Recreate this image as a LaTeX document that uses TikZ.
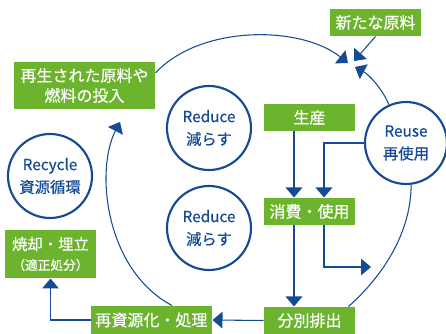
\documentclass[tikz,border=0pt]{standalone}
\usepackage{fontspec}
\setmainfont{Noto Sans CJK JP}[AutoFakeBold=0.5]
\usetikzlibrary{arrows.meta}

\definecolor{leaf}{RGB}{108,180,45}
\definecolor{navy}{RGB}{20,75,148}

\tikzset{every picture/.style={line width=0.75pt}}
\tikzset{
  gbox/.style={fill=leaf, text=white, inner sep=0pt, align=center, font=\fontsize{12}{15}\selectfont\bfseries},
  ring/.style={circle, draw=navy, line width=1.6pt, fill=white, minimum size=63pt, inner sep=0pt, align=center, text=navy, font=\fontsize{11.5}{17}\selectfont\bfseries},
  flow/.style={draw=navy, line width=0.8pt, -{Triangle[length=7.5pt,width=12.5pt]}},
}

\begin{document}
\begin{tikzpicture}[x=0.75pt,y=0.75pt,yscale=-1,xscale=1]
\useasboundingbox (0,0) rectangle (446,334);

% Text Node
\node [gbox, minimum width=68.25pt, minimum height=20.25pt] (shin) at (375.5,22.5) {新たな原料};
% Text Node
\node [gbox, minimum width=105.75pt, minimum height=35.25pt] (saisei) at (84.5,85.5) {再生された原料や\\燃料の投入};
% Text Node
\node [gbox, minimum width=68.25pt, minimum height=20.25pt] (seisan) at (309.5,117.5) {生産};
% Text Node
\node [gbox, minimum width=68.25pt, minimum height=20.25pt] (shohi) at (309.5,211.5) {消費・使用};
% Text Node
\node [gbox, minimum width=68.25pt, minimum height=20.25pt] (bunbetsu) at (309.5,320.5) {分別排出};
% Text Node
\node [gbox, minimum width=90.75pt, minimum height=21pt] (saishigen) at (151.5,320) {再資源化・処理};
% Text Node
\node [gbox, minimum width=68.25pt, minimum height=36pt, font=\fontsize{11.5}{15}\selectfont\bfseries] (shoukyaku) at (50.5,254) {焼却・埋立\\{\fontsize{9.5}{15}\selectfont （適正処分）}};

%Shape: Circle
\node [ring] (reduceA) at (209,128) {Reduce\\減らす};
%Shape: Circle
\node [ring] (reduceB) at (209,228) {Reduce\\減らす};
%Shape: Circle
\node [ring] (recycle) at (50,176) {Recycle\\資源循環};
%Shape: Circle
\node [ring, minimum size=61.5pt] (reuse) at (406,143) {Reuse\\再使用};

\coordinate (tipA) at (348,63);
\coordinate (tipB) at (354,61);
\coordinate (tipC) at (355,67);
\coordinate (tipD) at (120,122);
\coordinate (outend) at (371,267);
\coordinate (xa) at (294,0);
\coordinate (xb) at (324,0);

%Curve Lines
\draw [flow] (saisei.10) .. controls (200,25) and (300,25) .. (tipA);
%Straight Lines
\draw [flow] (shin.south) -- (tipB);
%Curve Lines
\draw [flow] (reuse.114) .. controls (382,88) and (368,74) .. (tipC);
%Curve Lines
\draw [flow] ([xshift=15.4pt]saishigen.north) .. controls (105,270) and (95,170) .. (tipD);
%Curve Lines
\draw [draw=navy, line width=0.8pt] ([xshift=-5.25pt]bunbetsu.north east) .. controls (384,275) and (411,232) .. (reuse.-83);

%Straight Lines
\draw [flow] (seisan.south -| xa) -- (shohi.north -| xa);
%Straight Lines
\draw [flow] (reuse.west) -| (shohi.north -| xb);
%Straight Lines
\draw [flow] (shohi.south -| xa) -- (bunbetsu.north -| xa);
%Straight Lines
\draw [flow] (shohi.south -| xb) |- (outend);
%Straight Lines
\draw [flow] (bunbetsu.west) -- (saishigen.east);
%Straight Lines
\draw [flow] (saishigen.west) -| (shoukyaku.south);

\end{tikzpicture}
\end{document}
